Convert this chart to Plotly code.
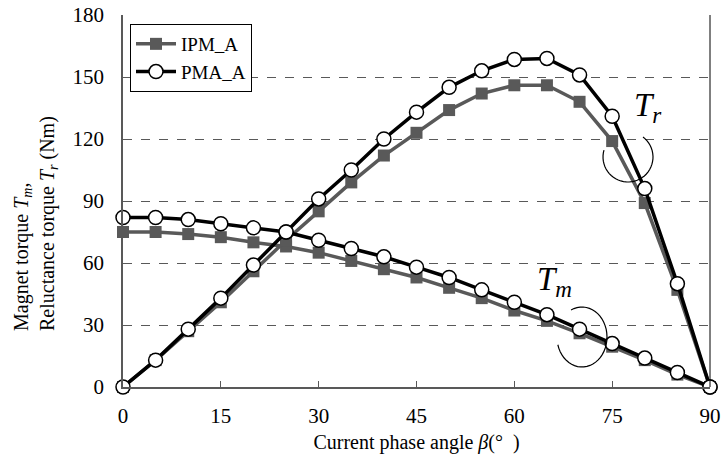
import numpy as np
import plotly.graph_objects as go

beta = [0, 5, 10, 15, 20, 25, 30, 35, 40, 45, 50, 55, 60, 65, 70, 75, 80, 85, 90]
ipm_tr = [0, 13, 27, 41, 56, 71, 85, 99, 112, 123, 134, 142, 146, 146, 138, 119, 89, 47, 0]
pma_tr = [0, 13, 28, 43, 59, 75, 91, 105, 120, 133, 145, 153, 158.5, 159, 151, 131, 96, 50, 0]
ipm_tm = [75, 75, 74, 72.5, 70, 68, 65, 61, 57, 53, 48, 43, 37, 32, 26, 19.5, 13, 6, 0]
pma_tm = [82, 82, 81, 79, 77, 75, 71, 67, 63, 58, 53, 47, 41, 35, 28, 21, 14, 7, 0]
x_ticks = [0, 15, 30, 45, 60, 75, 90]
y_ticks = [0, 30, 60, 90, 120, 150, 180]

FONT = "Liberation Serif, Times New Roman, serif"
GRAY = "#595959"

W, H = 724, 457
L, R, T, B = 123, 710, 15, 387

def px(xp, yp):
    return ((xp - L) / (R - L), (B - yp) / (B - T))

fig = go.Figure()

for name, tm, tr, style in [
    ("IPM_A", ipm_tm, ipm_tr, dict(line=dict(color=GRAY, width=3.5),
                                   marker=dict(symbol="square", size=12, color=GRAY))),
    ("PMA_A", pma_tm, pma_tr, dict(line=dict(color="black", width=3.5),
                                   marker=dict(symbol="circle", size=14, color="white",
                                               line=dict(color="black", width=1.5)))),
]:
    fig.add_trace(go.Scatter(x=beta, y=tm, mode="lines+markers", name=name,
                             legendgroup=name, showlegend=True, cliponaxis=False, **style))
    fig.add_trace(go.Scatter(x=beta, y=tr, mode="lines+markers", name=name,
                             legendgroup=name, showlegend=False, cliponaxis=False, **style))

def arc_path(cx, cy, rx, ry, a0, a1, n=40):
    pts = []
    for a in np.linspace(np.radians(a0), np.radians(a1), n):
        xp = cx + rx * np.cos(a)
        yp = cy + ry * np.sin(a)
        pts.append(px(xp, yp))
    return "M " + " L ".join(f"{x:.4f},{y:.4f}" for x, y in pts)

shapes = [
    dict(type="path", xref="paper", yref="paper",
         path=arc_path(628, 157, 25, 25, -53, 196), line=dict(color="black", width=1.2)),
    dict(type="path", xref="paper", yref="paper",
         path=arc_path(582, 337, 25, 30, -116, 165), line=dict(color="black", width=1.2)),
    dict(type="line", xref="paper", yref="paper", x0=1, x1=1, y0=0, y1=1,
         line=dict(color="black", width=1)),
]

ax1 = px(664, 85)
ax2 = px(574, 304)
yt = px(36, 224)
annotations = [
    dict(x=ax1[0], y=ax1[1], xref="paper", yref="paper", showarrow=False,
         text="<i>T<sub>r</sub></i>", font=dict(family=FONT, size=33, color="black")),
    dict(x=ax2[0], y=ax2[1], xref="paper", yref="paper", showarrow=False,
         text="<i>T<sub>m</sub></i>", font=dict(family=FONT, size=33, color="black")),
    dict(x=yt[0], y=yt[1], xref="paper", yref="paper", showarrow=False,
         textangle=-90, align="left", xanchor="center", yanchor="middle",
         text="Magnet torque <i>T<sub>m</sub></i>,<br>Reluctance torque <i>T<sub>r</sub></i> (Nm)",
         font=dict(family=FONT, size=20, color="black")),
]

fig.update_layout(
    width=W, height=H,
    margin=dict(l=L, r=W - R, t=T, b=H - B, autoexpand=False),
    paper_bgcolor="white", plot_bgcolor="white",
    font=dict(family=FONT, size=19, color="black"),
    showlegend=True,
    legend=dict(x=px(130, 24)[0], y=px(130, 24)[1], xanchor="left", yanchor="top",
                bgcolor="white", bordercolor="black", borderwidth=1, itemwidth=40,
                font=dict(family=FONT, size=19), tracegroupgap=0),
    shapes=shapes,
    annotations=annotations,
    xaxis=dict(range=[0, 90], tickvals=x_ticks, showgrid=False, zeroline=False,
               automargin=False,
               showline=True, linecolor=GRAY, linewidth=1.5,
               ticks="inside", ticklen=6, tickcolor=GRAY, ticklabelstandoff=9,
               tickfont=dict(family=FONT, size=21),
               title=dict(text="Current phase angle <i>β</i>(°\u00a0\u00a0)",
                          font=dict(family=FONT, size=20), standoff=8)),
    yaxis=dict(range=[0, 180], tickvals=y_ticks, showgrid=True, gridcolor=GRAY,
               griddash="dash", gridwidth=1, zeroline=False, automargin=False,
               showline=True, linecolor=GRAY, linewidth=1.5, ticks="",
               ticklabelstandoff=13,
               tickfont=dict(family=FONT, size=21)),
)

fig.write_html("out.html")
